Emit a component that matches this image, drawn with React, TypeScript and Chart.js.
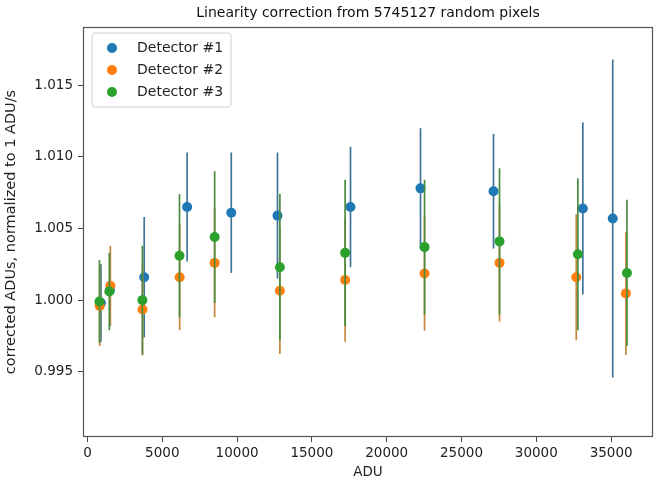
import { useEffect, useRef } from "react";
import { Chart, registerables } from "chart.js";

Chart.register(...registerables);

const TITLE = "Linearity correction from 5745127 random pixels";
const X_LABEL = "ADU";
const Y_LABEL = "corrected ADUs, normalized to 1 ADU/s";
const SERIES_NAMES = ["Detector #1", "Detector #2", "Detector #3"];
const COLORS = ["#1f77b4", "#ff7f0e", "#2ca02c"];
const BAR_COLORS = ["#3f7499", "#c9873f", "#4a8c3f"];

const det1X = [900, 1500, 3790, 6660, 9610, 12700, 17580, 22260, 27140, 33110, 35110];
const det1Y = [0.9998, 1.0007, 1.0016, 1.0065, 1.0061, 1.0059, 1.0065, 1.0078, 1.0076, 1.0064, 1.0057];
const det1Err = [0.0027, 0.0025, 0.0042, 0.0038, 0.0042, 0.0044, 0.0042, 0.0042, 0.004, 0.006, 0.0111];

const det2X = [820, 1530, 3680, 6160, 8500, 12860, 17220, 22530, 27540, 32670, 35990];
const det2Y = [0.9996, 1.001, 0.99935, 1.0016, 1.0026, 1.00065, 1.0014, 1.00186, 1.0026, 1.0016, 1.00047];
const det2Err = [0.0028, 0.0028, 0.0032, 0.0037, 0.0038, 0.0044, 0.0043, 0.004, 0.0041, 0.0044, 0.0043];

const det3X = [800, 1460, 3670, 6150, 8500, 12860, 17220, 22530, 27540, 32780, 36060];
const det3Y = [0.9999, 1.0006, 1.0, 1.0031, 1.0044, 1.0023, 1.0033, 1.0037, 1.0041, 1.0032, 1.0019];
const det3Err = [0.0029, 0.0027, 0.0038, 0.0043, 0.0046, 0.0051, 0.0051, 0.0047, 0.0051, 0.0053, 0.0051];

const X_TICKS = [0, 5000, 10000, 15000, 20000, 25000, 30000, 35000];
const Y_TICKS = [0.995, 1.0, 1.005, 1.01, 1.015];
const X_MIN = -300;
const X_MAX = 37800;
const Y_MIN = 0.99045;
const Y_MAX = 1.01906;

const SERIES_X = [det1X, det2X, det3X];
const SERIES_Y = [det1Y, det2Y, det3Y];
const SERIES_ERR = [det1Err, det2Err, det3Err];

const FONT = "'DejaVu Sans', sans-serif";

const errorBarPlugin = {
  id: "errorBars",
  beforeDatasetDraw(chart: any, args: any) {
    const i = args.index;
    const errs = SERIES_ERR[i];
    const ys = SERIES_Y[i];
    const yScale = chart.scales.y;
    const ctx = chart.ctx;
    const area = chart.chartArea;
    ctx.save();
    ctx.beginPath();
    ctx.rect(area.left, area.top, area.right - area.left, area.bottom - area.top);
    ctx.clip();
    ctx.strokeStyle = BAR_COLORS[i];
    ctx.lineWidth = 1.7;
    args.meta.data.forEach((pt: any, k: number) => {
      const top = yScale.getPixelForValue(ys[k] + errs[k]);
      const bot = yScale.getPixelForValue(ys[k] - errs[k]);
      ctx.beginPath();
      ctx.moveTo(pt.x, top);
      ctx.lineTo(pt.x, bot);
      ctx.stroke();
    });
    ctx.restore();
  },
};

const decorPlugin = {
  id: "decor",
  afterDraw(chart: any) {
    const ctx = chart.ctx;
    const a = chart.chartArea;
    ctx.save();
    ctx.strokeStyle = "#555";
    ctx.lineWidth = 1.2;
    ctx.strokeRect(a.left + 0.5, a.top + 0.5, a.right - a.left - 1, a.bottom - a.top - 1);
    ctx.fillStyle = "#111";
    ctx.font = `14px ${FONT}`;
    ctx.textAlign = "center";
    ctx.textBaseline = "middle";
    ctx.fillText(TITLE, (a.left + a.right) / 2, 13);
    const lx = 92, ly = 33, lw = 139, lh = 74, r = 3;
    ctx.beginPath();
    ctx.moveTo(lx + r, ly);
    ctx.lineTo(lx + lw - r, ly);
    ctx.quadraticCurveTo(lx + lw, ly, lx + lw, ly + r);
    ctx.lineTo(lx + lw, ly + lh - r);
    ctx.quadraticCurveTo(lx + lw, ly + lh, lx + lw - r, ly + lh);
    ctx.lineTo(lx + r, ly + lh);
    ctx.quadraticCurveTo(lx, ly + lh, lx, ly + lh - r);
    ctx.lineTo(lx, ly + r);
    ctx.quadraticCurveTo(lx, ly, lx + r, ly);
    ctx.closePath();
    ctx.fillStyle = "rgba(255,255,255,0.8)";
    ctx.fill();
    ctx.strokeStyle = "#d0d0d0";
    ctx.lineWidth = 1;
    ctx.stroke();
    ctx.font = `14px ${FONT}`;
    ctx.textAlign = "left";
    ctx.textBaseline = "middle";
    SERIES_NAMES.forEach((name, i) => {
      const y = 48 + i * 22;
      ctx.fillStyle = COLORS[i];
      ctx.beginPath();
      ctx.arc(112, y, 5, 0, Math.PI * 2);
      ctx.fill();
      ctx.fillStyle = "#222";
      ctx.fillText(name, 137, y);
    });
    ctx.restore();
  },
};

export default function App() {
  const canvasRef = useRef<HTMLCanvasElement | null>(null);

  useEffect(() => {
    const canvas = canvasRef.current;
    if (!canvas) return;
    const datasets = SERIES_NAMES.map((name, i) => ({
      label: name,
      data: SERIES_X[i].map((x, k) => ({ x, y: SERIES_Y[i][k] })),
      backgroundColor: COLORS[i],
      borderColor: COLORS[i],
      pointRadius: 5,
      pointHoverRadius: 5,
      pointBorderWidth: 0,
      showLine: false,
      order: 3 - i,
    }));
    const chart = new Chart(canvas, {
      type: "scatter",
      data: { datasets },
      plugins: [errorBarPlugin, decorPlugin],
      options: {
        responsive: false,
        animation: false,
        events: [],
        layout: { padding: { top: 27, right: 1, left: 0, bottom: 0 } },
        plugins: {
          legend: { display: false },
          tooltip: { enabled: false },
          title: { display: false },
        },
        scales: {
          x: {
            type: "linear",
            min: X_MIN,
            max: X_MAX,
            afterBuildTicks: (scale: any) => {
              scale.ticks = X_TICKS.map((v) => ({ value: v }));
            },
            afterFit: (scale: any) => {
              scale.height = 46;
            },
            ticks: {
              callback: (v: any) => String(v),
              font: { family: FONT, size: 13.5 },
              color: "#222",
              padding: 3,
              maxRotation: 0,
              autoSkip: false,
            },
            grid: { drawOnChartArea: false, drawTicks: true, tickLength: 5, color: "#444" },
            border: { display: false },
            title: {
              display: true,
              text: X_LABEL,
              font: { family: FONT, size: 13.5 },
              color: "#222",
              padding: { top: 0, bottom: 2 },
            },
          },
          y: {
            type: "linear",
            min: Y_MIN,
            max: Y_MAX,
            afterBuildTicks: (scale: any) => {
              scale.ticks = Y_TICKS.map((v) => ({ value: v }));
            },
            afterFit: (scale: any) => {
              scale.width = 83;
            },
            ticks: {
              callback: (v: any) => Number(v).toFixed(3),
              font: { family: FONT, size: 13.5 },
              color: "#222",
              padding: 5,
              autoSkip: false,
            },
            grid: { drawOnChartArea: false, drawTicks: true, tickLength: 5, color: "#444" },
            border: { display: false },
            title: {
              display: true,
              text: Y_LABEL,
              font: { family: FONT, size: 14.5 },
              color: "#222",
              padding: { top: 3, bottom: 0 },
            },
          },
        },
      },
    });
    return () => chart.destroy();
  }, []);

  return (
    <div style={{ position: "absolute", left: 0, top: 0, width: 658, height: 483, background: "#fff" }}>
      <canvas ref={canvasRef} width={658} height={483} style={{ display: "block" }} />
    </div>
  );
}
